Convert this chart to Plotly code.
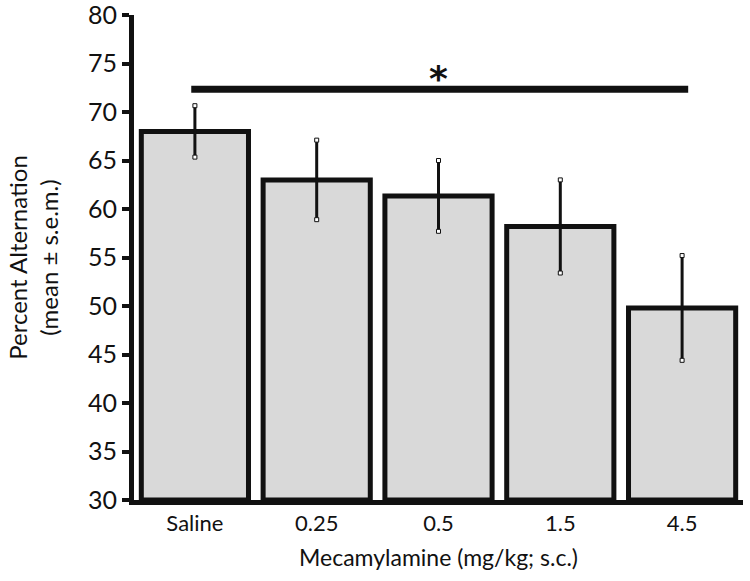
import plotly.graph_objects as go

categories = ["Saline", "0.25", "0.5", "1.5", "4.5"]
means = [68.0, 63.0, 61.35, 58.2, 49.8]
sems = [2.65, 4.1, 3.65, 4.8, 5.4]
y_ticks = [30, 35, 40, 45, 50, 55, 60, 65, 70, 75, 80]
sig_y = 72.35
sig_label = "*"

FONT = "Lato"

fig = go.Figure()
fig.add_trace(go.Bar(
    x=categories, y=[m - 30 for m in means], base=30,
    width=0.88,
    marker=dict(color="#d9d9d9", line=dict(color="#111111", width=5)),
    error_y=dict(type="data", array=sems, color="#111111", thickness=3, width=0),
    showlegend=False, hoverinfo="skip",
))
cap_x = categories + categories
cap_y = [m + s for m, s in zip(means, sems)] + [m - s for m, s in zip(means, sems)]
fig.add_trace(go.Scatter(
    x=cap_x, y=cap_y, mode="markers",
    marker=dict(symbol="square", size=4, color="white", line=dict(color="#111111", width=1)),
    showlegend=False, hoverinfo="skip",
))

fig.add_shape(type="line", xref="x", yref="y", x0=-0.03, x1=4.05, y0=sig_y, y1=sig_y,
              line=dict(color="#111111", width=7))
fig.add_annotation(x=2, y=sig_y, xref="x", yref="y", text="<b>" + sig_label + "</b>",
                   showarrow=False, yanchor="bottom", yshift=-12,
                   font=dict(family="DejaVu Sans", size=36, color="#111111"))

fig.update_layout(
    width=750, height=581,
    margin=dict(l=134, r=7, t=15, b=81),
    paper_bgcolor="white", plot_bgcolor="white",
    font=dict(family=FONT, color="#111111"),
)
fig.update_xaxes(
    type="category", range=[-0.5, 4.5], automargin=False,
    showline=True, linewidth=5, linecolor="#111111",
    ticks="", tickfont=dict(size=22, family=FONT, color="#111111"),
    title=dict(text="Mecamylamine (mg/kg; s.c.)", font=dict(size=23, family=FONT, color="#111111"), standoff=16),
    showgrid=False, zeroline=False,
)
fig.update_yaxes(
    range=[30, 80], tickvals=y_ticks, automargin=False, ticklabeloverflow="allow",
    showline=True, linewidth=5, linecolor="#111111",
    ticks="outside", ticklen=7, tickwidth=4, tickcolor="#111111",
    tickfont=dict(size=25, family=FONT, color="#111111"),
    title=dict(text="Percent Alternation<br>(mean ± s.e.m.)", font=dict(size=24, family=FONT, color="#111111"), standoff=24),
    showgrid=False, zeroline=False,
)

fig.write_html("out.html", config={"displayModeBar": False},
               post_script="document.body.style.margin='0';")
